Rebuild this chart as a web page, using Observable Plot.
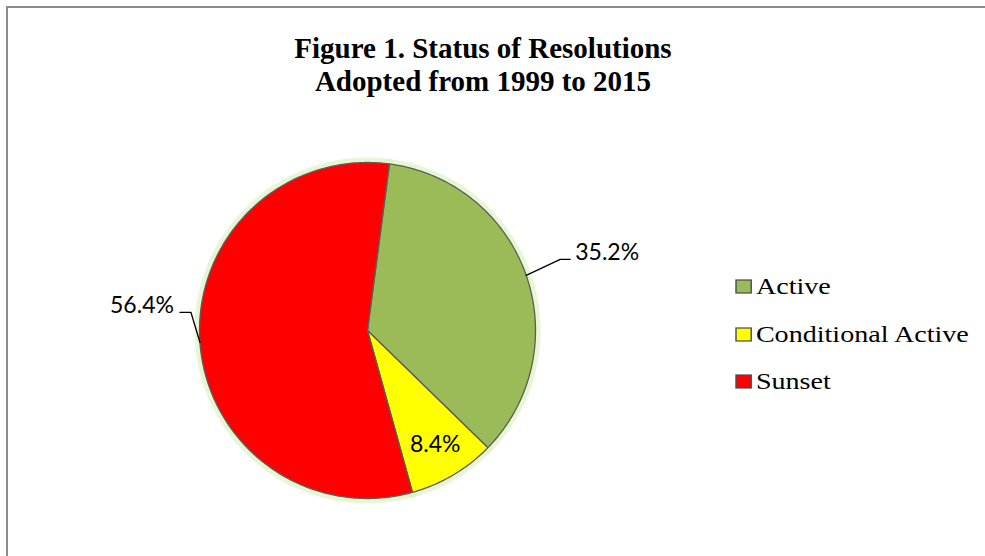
<!DOCTYPE html>
<html>
<head>
<meta charset="utf-8">
<script src="https://cdn.jsdelivr.net/npm/d3@7"></script>
<script src="https://cdn.jsdelivr.net/npm/@observablehq/plot@0.6"></script>
<style>
  html, body { margin: 0; padding: 0; background: #fff; }
  #wrap { position: relative; width: 985px; height: 556px; overflow: hidden; background: #fff; }
  #frame { position: absolute; left: 6px; top: 6px; width: 1000px; height: 600px;
           border-top: 2px solid #8c8c8c; border-left: 2px solid #8c8c8c; box-sizing: border-box; }
  #title { position: absolute; left: 0; top: 32px; width: 966px; text-align: center;
           font: bold 29px "Liberation Serif", "Times New Roman", serif; line-height: 33px; color: #000; }
  #chart { position: absolute; left: 0; top: 0; }
  #legend { position: absolute; left: 736px; top: 263px; transform: scaleX(1.17); transform-origin: 0 0; }
  .lg-swatches { margin: 0 !important; min-height: 0 !important; }
  .lg-swatch { height: 47.5px !important; padding: 0 !important; margin: 0 !important; }
  .lg-swatch > svg { margin-right: 4px !important; }
  .lg-swatch > svg rect { stroke: #4a4a4a; stroke-width: 1.2px; }
</style>
</head>
<body>
<div id="wrap">
  <div id="frame"></div>
  <div id="title">Figure 1. Status of Resolutions<br>Adopted from 1999 to 2015</div>
  <div id="chart"></div>
  <div id="legend"></div>
</div>
<script>
// ---- data ----
const categories = ["Active", "Conditional Active", "Sunset"];
const shares = [35.2, 8.4, 56.4];
const labels = ["35.2%", "8.4%", "56.4%"];
const colors = ["#9bbb59", "#ffff00", "#ff0000"];

// ---- layout (not data) ----
const cx = 367, cy = 330, R = 168;      // pie centre and radius in pixels
const firstSliceDeg = 7.5;               // angle of first slice
const labelLayout = {
  "Active": {outside: true, elbow: [34, -16], run: 10, anchor: "start"},
  "Conditional Active": {outside: false, radius: 0.79},
  "Sunset": {outside: true, elbow: [-9, -30], run: -11, anchor: "end"}
};

const rows = categories.map((name, i) => ({name, value: shares[i], label: labels[i]}));
const a0 = firstSliceDeg * Math.PI / 180;
const arcs = d3.pie().sort(null).value(d => d.value).startAngle(a0).endAngle(a0 + 2 * Math.PI)(rows);

// polygon outline of each slice (apex + arc)
const slicePts = [];
for (const a of arcs) {
  const name = a.data.name;
  slicePts.push({name, x: 0, y: 0});
  const n = Math.max(2, Math.ceil((a.endAngle - a.startAngle) / (Math.PI / 180)));
  for (let k = 0; k <= n; k++) {
    const t = a.startAngle + (a.endAngle - a.startAngle) * k / n;
    slicePts.push({name, x: Math.sin(t), y: Math.cos(t)});
  }
}

// labels and leader lines
const px = 1 / R; // data units per pixel
const textRows = [];
const leaderPts = [];
for (const a of arcs) {
  const d = a.data;
  const mid = (a.startAngle + a.endAngle) / 2;
  const L = labelLayout[d.name];
  if (L.outside) {
    const rim = {x: Math.sin(mid), y: Math.cos(mid)};
    const elbow = {x: rim.x + L.elbow[0] * px, y: rim.y - L.elbow[1] * px};
    const end = {x: elbow.x + L.run * px, y: elbow.y};
    leaderPts.push({name: d.name, ...rim}, {name: d.name, ...elbow}, {name: d.name, ...end});
    textRows.push({label: d.label, x: end.x, y: end.y, anchor: L.anchor});
  } else {
    textRows.push({label: d.label, x: L.radius * Math.sin(mid), y: L.radius * Math.cos(mid), anchor: "middle"});
  }
}

const colorScale = {domain: categories, range: colors};
const labelFont = {fontSize: 23, fontFamily: "Lato, 'Liberation Sans', sans-serif", fill: "#000"};

const plot = Plot.plot({
  width: 985,
  height: 556,
  margin: 0,
  x: {domain: [-1, 1], range: [cx - R, cx + R], axis: null},
  y: {domain: [-1, 1], range: [cy + R, cy - R], axis: null},
  color: colorScale,
  style: {background: "transparent", overflow: "visible"},
  marks: [
    // soft outer glow
    Plot.line(slicePts, {x: "x", y: "y", z: "name", stroke: "#d3eeb0", strokeWidth: 10, strokeOpacity: 0.55, curve: "linear-closed"}),
    Plot.line(slicePts, {x: "x", y: "y", z: "name", stroke: "#e6f6d2", strokeWidth: 5, strokeOpacity: 0.8, curve: "linear-closed"}),
    // slices
    Plot.line(slicePts, {x: "x", y: "y", z: "name", fill: "name", stroke: "#5c5c5c", strokeWidth: 1.3, strokeLinejoin: "round", curve: "linear-closed"}),
    // leader lines
    Plot.line(leaderPts, {x: "x", y: "y", z: "name", stroke: "#000", strokeWidth: 1.3}),
    // value labels
    Plot.text(textRows.filter(d => d.anchor === "start"), {x: "x", y: "y", text: "label", textAnchor: "start", dx: 5, dy: -7, ...labelFont}),
    Plot.text(textRows.filter(d => d.anchor === "end"), {x: "x", y: "y", text: "label", textAnchor: "end", dx: -6, dy: -7, ...labelFont}),
    Plot.text(textRows.filter(d => d.anchor === "middle"), {x: "x", y: "y", text: "label", textAnchor: "middle", ...labelFont})
  ]
});
document.getElementById("chart").appendChild(plot);

const legend = Plot.legend({
  color: colorScale,
  legend: "swatches",
  columns: 1,
  swatchSize: 13,
  className: "lg",
  style: {fontSize: "24px", fontFamily: "'Liberation Serif', 'Times New Roman', serif", color: "#000"}
});
document.getElementById("legend").appendChild(legend);
</script>
</body>
</html>
